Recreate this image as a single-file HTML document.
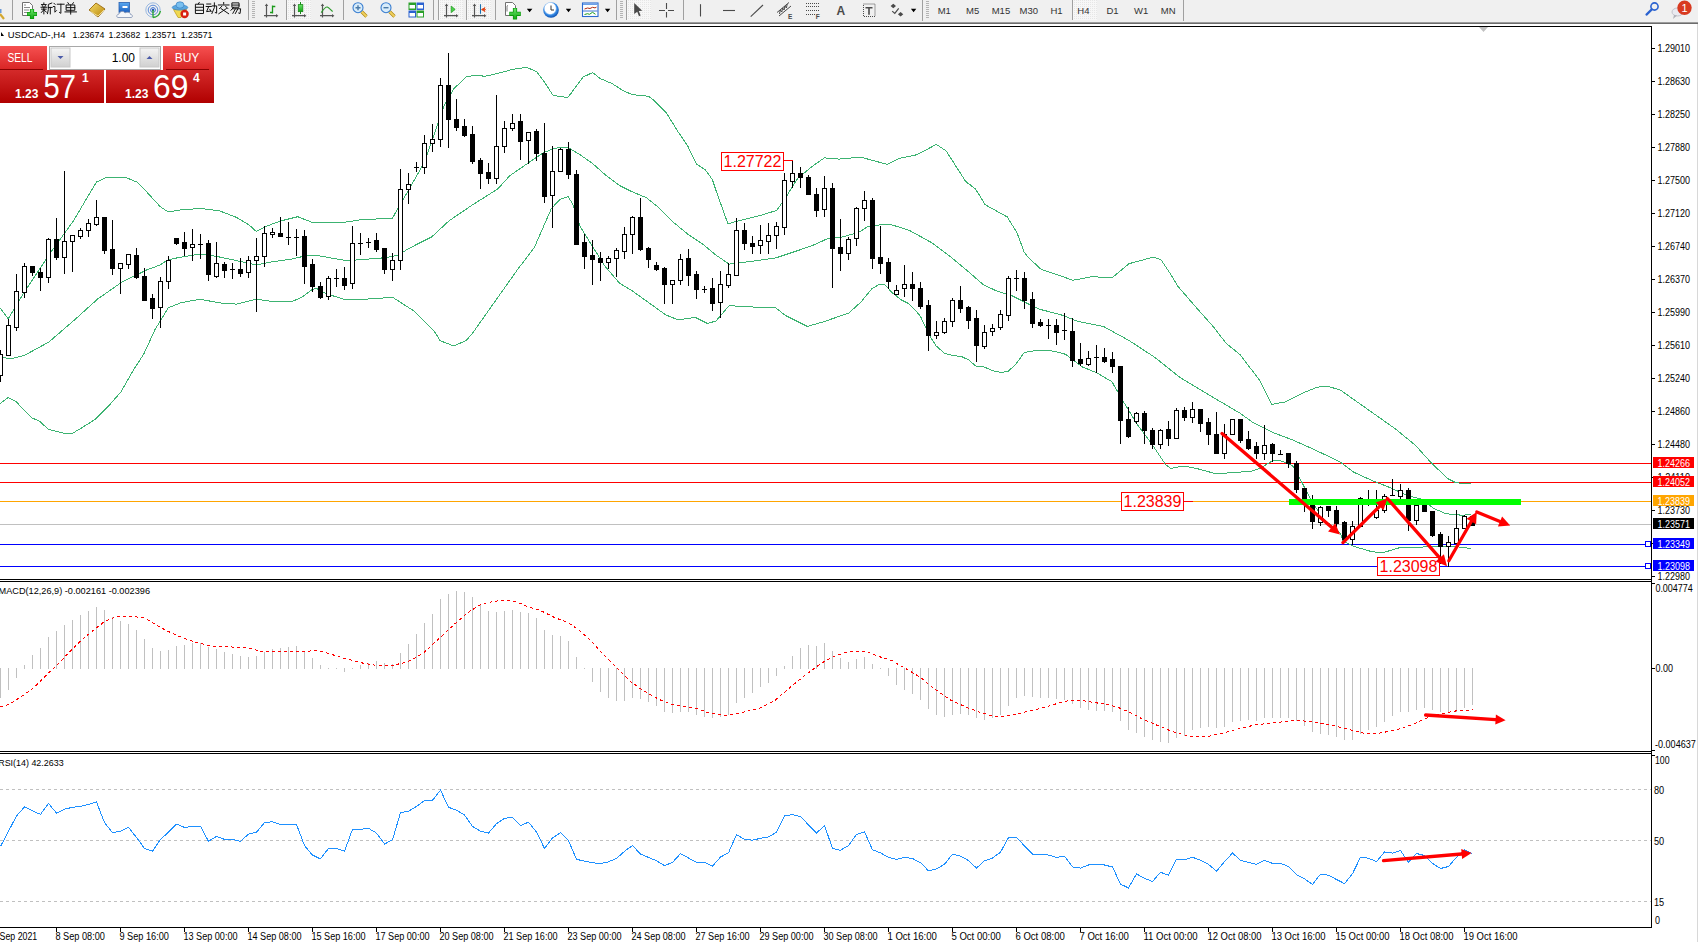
<!DOCTYPE html><html><head><meta charset="utf-8"><title>MT4</title><style>html,body{margin:0;padding:0;width:1698px;height:942px;overflow:hidden;background:#fff;font-family:"Liberation Sans",sans-serif}svg{position:absolute;left:0;top:0}</style></head><body>
<svg width="1698" height="942" viewBox="0 0 1698 942">
<rect x="0" y="0" width="1698" height="22" fill="#f0f0f0"/>
<rect x="0" y="22" width="1698" height="1" fill="#9c9c9c"/><rect x="0" y="23" width="1698" height="1" fill="#6c6c6c"/>
<rect x="1697" y="24" width="1" height="918" fill="#d8d8d8"/>
<g id="toolbar">
<defs>
<linearGradient id="gGreen" x1="0" y1="0" x2="0" y2="1"><stop offset="0" stop-color="#6be46b"/><stop offset="1" stop-color="#12a812"/></linearGradient>
<linearGradient id="gGold" x1="0" y1="0" x2="1" y2="1"><stop offset="0" stop-color="#f6dc6a"/><stop offset="1" stop-color="#b8860b"/></linearGradient>
<linearGradient id="gBlue" x1="0" y1="0" x2="0" y2="1"><stop offset="0" stop-color="#5aa8f0"/><stop offset="1" stop-color="#1a5fc0"/></linearGradient>
<radialGradient id="gClock" cx="0.45" cy="0.4" r="0.6"><stop offset="0.55" stop-color="#ffffff"/><stop offset="0.7" stop-color="#3a8ee8"/><stop offset="1" stop-color="#0b4fae"/></radialGradient>
<pattern id="pDots" width="2" height="2" patternUnits="userSpaceOnUse"><rect width="2" height="2" fill="#f7f7f7"/><rect width="1" height="1" fill="#e6e6e6"/></pattern>
</defs>
<!-- pressed backgrounds -->
<rect x="287" y="0" width="24" height="20" fill="url(#pDots)"/>
<rect x="439" y="0" width="24" height="20" fill="url(#pDots)"/>
<rect x="467" y="0" width="24" height="20" fill="url(#pDots)"/>
<rect x="627" y="0" width="24" height="20" fill="url(#pDots)"/>
<rect x="1073" y="0" width="24" height="20" fill="url(#pDots)"/>
<!-- separators -->
<g fill="#a0a0a0">
<rect x="12" y="0" width="1" height="20"/>
<rect x="248" y="0" width="1" height="20"/>
<rect x="286" y="0" width="1" height="20"/>
<rect x="343" y="0" width="1" height="20"/>
<rect x="433" y="0" width="1" height="20"/>
<rect x="438" y="0" width="1" height="20"/>
<rect x="466" y="0" width="1" height="20"/>
<rect x="495" y="0" width="1" height="20"/>
<rect x="616" y="0" width="1" height="20"/>
<rect x="626" y="0" width="1" height="20"/>
<rect x="683" y="0" width="1" height="20"/>
<rect x="922" y="0" width="1" height="21"/>
<rect x="1072" y="0" width="1" height="20"/>
<rect x="1183" y="0" width="1" height="21"/>
</g>
<!-- grips -->
<g fill="#b4b4b4">
<path d="M252,1h3v1h-3zM252,3h3v1h-3zM252,5h3v1h-3zM252,7h3v1h-3zM252,9h3v1h-3zM252,11h3v1h-3zM252,13h3v1h-3zM252,15h3v1h-3zM252,17h3v1h-3z"/>
<path d="M620,1h3v1h-3zM620,3h3v1h-3zM620,5h3v1h-3zM620,7h3v1h-3zM620,9h3v1h-3zM620,11h3v1h-3zM620,13h3v1h-3zM620,15h3v1h-3zM620,17h3v1h-3z"/>
<path d="M926,1h3v1h-3zM926,3h3v1h-3zM926,5h3v1h-3zM926,7h3v1h-3zM926,9h3v1h-3zM926,11h3v1h-3zM926,13h3v1h-3zM926,15h3v1h-3zM926,17h3v1h-3z"/>
</g>
<!-- partial magnifier at far left -->
<rect x="0" y="9" width="1.5" height="4" fill="#6a9ad8"/>
<path d="M0,14 L4,19" stroke="#d4a830" stroke-width="2.2"/>
<!-- new order -->
<path d="M22.5,2.5h7l3,3v10h-10z" fill="#fff" stroke="#707070"/>
<path d="M24,5h2M24,7.5h6M24,10h5M24,12.5h4" stroke="#8a8a8a" stroke-width="1"/>
<path d="M32,9v10M27,14h10" stroke="#0a9a0a" stroke-width="4.2"/>
<path d="M32,9.5v9M27.5,14h9" stroke="url(#gGreen)" stroke-width="2.6"/>
<!-- 新订单 -->
<g fill="none" stroke="#111" stroke-width="1.05" stroke-linecap="square">
<path transform="translate(41,2.5) scale(0.95)" d="M3,0.5v1.2M0.5,2.2h5M1.5,3.3l0.6,1.2M4.6,3.3l-0.5,1.2M0,5h6M3,5v7M0.6,7h4.8M3,7.5l-2.6,3M3,7.8l2.6,2.2M11.3,0.6l-3.6,1.4v5.5l-0.9,4.2M7.7,5.2h4M9.8,5.2v6.8"/>
<path transform="translate(53,2.5) scale(0.95)" d="M1,0.8l1.2,1.2M0.4,4.2h1.6v6l1.6-1.6M4.5,1.8h7.2M8.3,1.8v9.6l-1.4-0.9"/>
<path transform="translate(65,2.5) scale(0.95)" d="M3,0.2l1.1,1.6M8.8,0.2l-1.1,1.6M1.7,2.6h8.6v5.6h-8.6zM1.7,5.4h8.6M6,2.6v9.6M0,9.9h12"/>
</g>
<!-- gold book -->
<path d="M89,10 L96,3 L105,9 L98,17z" fill="url(#gGold)" stroke="#9a6a10" stroke-width="0.9"/>
<path d="M90.5,11.5 L98,16 L104,10" fill="none" stroke="#fff3b0" stroke-width="0.8"/>
<!-- blue cloud -->
<rect x="119" y="2.5" width="10.5" height="10" fill="url(#gBlue)" stroke="#2a60b0" stroke-width="0.8"/>
<rect x="122.5" y="6" width="5" height="2" fill="#fff"/>
<path d="M118,17.5 C116,17.5 116.5,14 119,14 C119.5,11 124,10.5 125,13 C127,11.5 131,12.5 130.5,14.5 C133,14.5 133,17.5 131,17.5z" fill="#f4f6fa" stroke="#8a9ab8" stroke-width="0.9"/>
<!-- signal -->
<circle cx="153" cy="10" r="7.2" fill="none" stroke="#9ab8e0" stroke-width="1"/>
<circle cx="153" cy="10" r="4.8" fill="none" stroke="#5a8ad8" stroke-width="1"/>
<circle cx="153" cy="10" r="2.4" fill="none" stroke="#3a70d0" stroke-width="1"/>
<circle cx="153" cy="10" r="1.2" fill="#1a50c0"/>
<path d="M153,10v7.5 M153,17.5 A7.5,7.5 0 0 0 160.4,11" fill="none" stroke="#2aa82a" stroke-width="1.3"/>
<!-- auto trading -->
<path d="M173.5,9.5 L186.5,9.5 L181,17.5 L178,17.5z" fill="#f0d850" stroke="#c0a020" stroke-width="0.8"/>
<ellipse cx="180" cy="7.5" rx="7.8" ry="2.6" fill="#5aa8e0" stroke="#3a80c0" stroke-width="0.7"/>
<ellipse cx="180" cy="5" rx="4" ry="3.2" fill="#7ac0f0" stroke="#3a80c0" stroke-width="0.7"/>
<circle cx="184.6" cy="14" r="4.2" fill="#d82010"/>
<rect x="183.1" y="12.5" width="3" height="3" fill="#fff"/>
<!-- 自动交易 -->
<g fill="none" stroke="#111" stroke-width="1.05" stroke-linecap="square">
<path transform="translate(194,2.5) scale(0.95)" d="M5.5,0l-1,1.5M2,1.8h8v9.8h-8zM2,5h8M2,8.2h8"/>
<path transform="translate(206,2.5) scale(0.95)" d="M0.8,1.6h4.2M0.2,4.2h5.4M2.8,4.4l-2.2,5.2l4.4-0.6M4,7.2l1.4,2.2M6.6,3.6h4.6v7.6l-1.4-0.6M8.8,0.4v5l-2.6,6.2"/>
<path transform="translate(218,2.5) scale(0.95)" d="M6,0v1.6M0.4,2.6h11.2M4,4l-2.4,2.4M8,4l2.4,2.4M3.2,6.4l8,5.4M8.8,6.4l-8,5.4"/>
<path transform="translate(230,2.5) scale(0.95)" d="M2.5,0.4h7v4.6h-7zM2.5,2.7h7M3.6,5.2l-2.6,3M2.6,6.6h8.6l-0.6,5l-1.4-0.5M5.6,6.8l-2.6,4.6M8.2,6.8l-2.6,4.8"/>
</g>
<!-- bar chart icon -->
<g stroke="#555" stroke-width="1.2" fill="#555">
<path d="M266.5,5v12.5M264,15.7h13" fill="none"/>
<path d="M264.8,6 L266.5,3.6 L268.2,6z M276,14 L278.4,15.7 L276,17.4z" stroke="none"/>
<path d="M294.5,5v12.5M292,15.7h13" fill="none"/>
<path d="M292.8,6 L294.5,3.6 L296.2,6z M304,14 L306.4,15.7 L304,17.4z" stroke="none"/>
<path d="M322.5,5v12.5M320,15.7h13" fill="none"/>
<path d="M320.8,6 L322.5,3.6 L324.2,6z M332,14 L334.4,15.7 L332,17.4z" stroke="none"/>
<path d="M446.5,5v12.5M444,15.7h13" fill="none"/>
<path d="M444.8,6 L446.5,3.6 L448.2,6z M456,14 L458.4,15.7 L456,17.4z" stroke="none"/>
<path d="M474.5,5v12.5M472,15.7h13" fill="none"/>
<path d="M472.8,6 L474.5,3.6 L476.2,6z M484,14 L486.4,15.7 L484,17.4z" stroke="none"/>
</g>
<path d="M272.5,5.5v8M270,12.5h2.5M272.5,6.5h2.8" stroke="#1a9a1a" stroke-width="1.3" fill="none"/>
<path d="M300.5,2v12" stroke="#1a8a1a" stroke-width="1"/>
<rect x="298.3" y="4.6" width="4.5" height="7" fill="url(#gGreen)" stroke="#1a8a1a" stroke-width="0.8"/>
<path d="M321.2,12.6 C323,10 325.5,6.5 327.3,7 C329,7.5 331,10.5 332.7,11.5" fill="none" stroke="#2a9a2a" stroke-width="1.1"/>
<path d="M451.2,6.1 L455.2,9.4 L451.2,12.6z" fill="#4ad04a" stroke="#1a9a1a" stroke-width="0.7"/>
<path d="M480.5,4.2v9.6" stroke="#1a70b0" stroke-width="1.1"/>
<path d="M481.5,9.6 L485,7.6 L484,9.6 L485,11.6z M483,9.6h3" fill="#e04010" stroke="#e04010" stroke-width="0.8"/>
<!-- zoom in/out -->
<path d="M361.5,11.5 L366.5,16.5" stroke="#b08a10" stroke-width="3.2"/>
<path d="M361.5,11.5 L366.5,16.5" stroke="#f0d060" stroke-width="1.8"/>
<circle cx="358" cy="7.7" r="5" fill="#d8ecfa" stroke="#3a7ed0" stroke-width="1.1"/>
<path d="M355.5,7.7h5M358,5.2v5" stroke="#4a7aa8" stroke-width="1.4"/>
<path d="M389.5,11.5 L394.5,16.5" stroke="#b08a10" stroke-width="3.2"/>
<path d="M389.5,11.5 L394.5,16.5" stroke="#f0d060" stroke-width="1.8"/>
<circle cx="386" cy="7.7" r="5" fill="#d8ecfa" stroke="#3a7ed0" stroke-width="1.1"/>
<path d="M383.5,7.7h5" stroke="#4a7aa8" stroke-width="1.4"/>
<!-- tile windows -->
<rect x="408.5" y="2.5" width="7.5" height="7.5" fill="#2aa02a"/>
<rect x="416.5" y="2.5" width="7.5" height="7.5" fill="#2a62d0"/>
<rect x="408.5" y="10.5" width="7.5" height="7" fill="#2a62d0"/>
<rect x="416.5" y="10.5" width="7.5" height="7" fill="#2aa02a"/>
<g fill="#fff"><rect x="409.5" y="5" width="5.5" height="3.5"/><rect x="417.5" y="5" width="5.5" height="3.5"/><rect x="409.5" y="13" width="5.5" height="3.5"/><rect x="417.5" y="13" width="5.5" height="3.5"/></g>
<!-- templates -->
<path d="M505.5,2.5h7l3,3v10h-10z" fill="#fff" stroke="#707070"/>
<path d="M508,5.5c-1,0 -1,1 -1,2v4" fill="none" stroke="#555" stroke-width="0.8"/>
<path d="M515,8v11.5M509.3,13.8h11.5" stroke="#0a9a0a" stroke-width="4.2"/>
<path d="M515,8.5v10.5M509.8,13.8h10.5" stroke="url(#gGreen)" stroke-width="2.6"/>
<path d="M526.8,8.8h5.6l-2.8,3.5z M565.8,8.8h5.4l-2.7,3.5z M604.9,8.8h5.4l-2.7,3.5z M910.9,8.8h5.4l-2.7,3.5z" fill="#000"/>
<!-- clock -->
<circle cx="551" cy="10" r="7.8" fill="url(#gClock)"/>
<path d="M551,5.5v4.5h3" fill="none" stroke="#333" stroke-width="1"/>
<!-- indicators -->
<rect x="582.5" y="3" width="15.5" height="13.5" fill="#fff" stroke="#2a6ad0" stroke-width="1.1"/>
<rect x="583" y="3.5" width="14.5" height="1.5" fill="#6aa0e8"/>
<path d="M583,11h14.5" stroke="#2a6ad0" stroke-width="0.9"/>
<path d="M584.5,9 l3,-1 l2.5,0.5 l2.5,-1.2 l2.5,0.6 l1.5,-0.8" fill="none" stroke="#b02a10" stroke-width="1"/>
<path d="M584.5,14.5 l3,-0.8 l2,0.6 l3,-2 l3,2" fill="none" stroke="#1a9a1a" stroke-width="1"/>
<!-- cursor -->
<path d="M634.2,3 L642.2,10.7 L638.8,10.9 L640.6,15.5 L639,16.3 L637.2,11.8 L634.2,14z" fill="#4a4a4a"/>
<!-- crosshair -->
<path d="M659,10.5h6M668,10.5h6M666.5,3v6M666.5,12v5.6" stroke="#4a4a4a" stroke-width="1.1"/>
<!-- lines -->
<path d="M700.5,4.2v12.3" stroke="#4a4a4a" stroke-width="1.1"/>
<path d="M723,10.5h12" stroke="#4a4a4a" stroke-width="1.1"/>
<path d="M750.7,16.7 L763,5" stroke="#4a4a4a" stroke-width="1.1"/>
<!-- channel E -->
<path d="M777,12.5 L789,2.5 M779,16 L791,6 M779.5,14 l0.8,-4 l1.5,2 l0.8,-4 l1.5,2 l0.8,-4 l1.5,2 l0.8,-4" fill="none" stroke="#4a4a4a" stroke-width="1"/>
<text x="788" y="18.8" font-family="Liberation Sans, sans-serif" font-size="6.5" font-weight="bold" fill="#4a4a4a">E</text>
<!-- fibo F -->
<g stroke="#4a4a4a" stroke-width="1" stroke-dasharray="1,1"><path d="M806,3.5h13M806,6.5h13M806,10.5h13M806,14.5h9"/></g>
<text x="815.8" y="18.8" font-family="Liberation Sans, sans-serif" font-size="6.5" font-weight="bold" fill="#4a4a4a">F</text>
<!-- A text -->
<text x="836.6" y="14.9" font-family="Liberation Sans, sans-serif" font-size="12" font-weight="bold" fill="#4a4a4a">A</text>
<!-- T label -->
<rect x="863.5" y="4" width="11.5" height="12.5" fill="none" stroke="#4a4a4a" stroke-width="1" stroke-dasharray="1,1"/>
<path d="M865.5,7.7h7M869,7.7v7" stroke="#4a4a4a" stroke-width="1.6"/>
<!-- arrows -->
<path d="M893.3,3.8 L896,6.1 L893.3,8.2 L890.6,6.1z M900.6,12 L903.3,14.2 L900.6,16.5 L897.9,14.2z" fill="#4a4a4a"/>
<path d="M892.2,11.1 L894.8,13.4 L898.7,8.4" fill="none" stroke="#4a4a4a" stroke-width="1.2"/>
<!-- timeframes -->
<g font-family="Liberation Sans, sans-serif" font-size="9.5" fill="#333">
<text x="937.7" y="13.9">M1</text>
<text x="966" y="13.9">M5</text>
<text x="991.7" y="13.9">M15</text>
<text x="1019.6" y="13.9">M30</text>
<text x="1050.5" y="13.9">H1</text>
<text x="1077.3" y="13.9">H4</text>
<text x="1106.4" y="13.9">D1</text>
<text x="1134" y="13.9">W1</text>
<text x="1160.8" y="13.9">MN</text>
</g>
<!-- search -->
<circle cx="1654.5" cy="6.5" r="3.6" fill="none" stroke="#2a62d0" stroke-width="1.6"/>
<path d="M1651.8,9.4 L1646.5,14.6" stroke="#2a62d0" stroke-width="2.2" stroke-linecap="round"/>
<!-- chat bubble + badge -->
<ellipse cx="1677.5" cy="12" rx="5.5" ry="4" fill="#eaeaf0" stroke="#b8b8c0" stroke-width="0.8"/>
<path d="M1674,15 L1673,19 L1677,15.5z" fill="#b0b0b8"/>
<circle cx="1684.5" cy="7.8" r="7.2" fill="#d83a20"/>
<text x="1684.5" y="12" font-family="Liberation Sans, sans-serif" font-size="11" fill="#fff" text-anchor="middle">1</text>

</g>
<g shape-rendering="crispEdges" fill="none" stroke="#000" stroke-width="1">
<path d="M0,26.5H1651.5V927.5H0"/>
<path d="M0,579.5H1651.5M0,581.5H1651.5M0,751.5H1651.5M0,753.5H1651.5"/>
</g>
<rect x="0" y="463" width="1651" height="1" fill="#ff0000"/>
<rect x="0" y="482" width="1651" height="1" fill="#ff0000"/>
<rect x="0" y="501" width="1651" height="1" fill="#ffa500"/>
<rect x="0" y="524" width="1651" height="1" fill="#c0c0c0"/>
<rect x="0" y="544" width="1651" height="1" fill="#0000ff"/>
<rect x="0" y="566" width="1651" height="1" fill="#0000ff"/>
<rect x="1645.5" y="541.5" width="5" height="5" fill="#fff" stroke="#0000ff" stroke-width="1"/>
<rect x="1645.5" y="563.5" width="5" height="5" fill="#fff" stroke="#0000ff" stroke-width="1"/>
<g fill="none" stroke="#3cb371" stroke-width="1" shape-rendering="crispEdges">
<polyline points="0.0,307.8 8.3,318.8 24.4,292.0 48.9,255.0 73.3,221.0 96.5,182.0 107.5,177.0 124.6,177.0 136.8,182.0 146.6,191.8 160.0,206.4 168.2,212.0 180.4,210.0 200.0,208.4 219.5,210.8 236.6,217.4 248.8,224.7 256.1,231.3 265.9,226.4 280.6,221.0 297.7,216.7 312.0,222.3 343.8,222.3 360.9,219.8 392.6,218.1 397.5,208.9 404.8,196.6 414.6,179.5 424.4,162.4 444.0,106.0 453.7,88.9 466.0,77.1 473.3,75.4 485.5,76.2 502.6,72.2 512.4,69.3 527.0,67.4 536.8,71.8 546.6,85.2 552.7,95.0 560.0,96.7 567.9,97.3 571.9,92.2 583.0,77.1 592.6,72.6 600.5,78.7 611.7,83.4 624.4,91.4 632.4,94.6 648.3,96.2 653.7,100.0 665.9,112.2 678.1,131.8 687.9,146.4 696.4,164.0 705.0,169.6 712.3,179.4 716.0,190.4 727.9,223.8 741.3,220.1 760.9,215.3 776.7,210.4 785.3,198.2 797.5,178.6 812.1,166.4 824.4,157.9 839.0,159.1 861.0,157.1 872.0,160.3 887.5,164.4 899.8,158.3 916.9,154.7 936.4,144.4 946.2,151.0 965.7,181.5 975.5,188.9 985.2,204.7 1007.2,216.9 1017.0,232.8 1024.3,252.4 1028.0,257.2 1041.1,269.3 1055.8,274.2 1072.9,280.3 1092.4,276.6 1111.9,277.9 1129.0,263.7 1153.5,257.1 1160.8,259.5 1170.6,274.2 1177.6,285.9 1192.9,303.7 1213.2,326.6 1226.0,343.2 1240.0,354.6 1259.4,380.0 1271.6,404.4 1285.0,402.0 1302.0,393.4 1316.8,387.3 1326.6,386.1 1340.0,389.8 1395.6,429.0 1415.4,445.3 1431.7,463.3 1447.9,478.7 1455.1,482.3 1462.4,483.5 1471.4,484.0"/>
<polyline points="0.0,356.6 9.8,359.0 24.4,355.4 48.9,342.0 73.3,321.0 97.7,299.0 122.1,282.0 146.6,270.0 160.0,265.0 168.2,259.7 180.4,257.2 200.0,254.0 217.1,256.5 236.6,260.6 256.1,265.0 270.8,262.1 292.8,258.9 307.4,255.3 316.0,255.3 326.7,257.2 346.2,260.6 360.9,259.7 385.3,257.7 397.5,255.3 409.7,248.0 431.7,236.9 448.8,221.0 472.0,205.2 497.7,189.0 509.9,175.6 529.5,162.1 544.1,152.4 553.9,148.7 560.0,147.5 568.2,147.6 580.4,155.0 592.6,163.5 604.9,174.5 619.5,185.5 631.7,191.6 646.4,197.7 658.6,207.5 673.2,222.1 687.9,234.3 702.6,244.1 716.0,255.1 729.1,264.1 748.6,261.7 775.5,258.0 797.5,250.7 814.6,244.6 826.8,239.0 841.5,237.2 858.6,232.4 868.3,226.3 872.0,225.5 890.0,224.3 909.5,230.4 931.5,242.6 951.0,257.2 966.4,270.0 984.0,285.2 996.8,291.0 1006.2,294.0 1012.0,295.7 1029.5,304.5 1038.9,309.1 1060.0,314.4 1078.2,321.5 1103.7,326.6 1129.2,340.6 1154.6,357.2 1180.1,377.6 1205.6,392.9 1240.0,413.2 1253.3,422.7 1272.8,432.5 1292.4,439.8 1314.3,449.6 1340.0,461.8 1354.0,472.3 1372.1,480.5 1390.2,487.7 1408.2,495.8 1422.6,499.4 1433.5,508.4 1444.3,513.0 1453.3,514.8 1462.4,515.1 1471.4,514.8"/>
<polyline points="0.0,403.6 8.3,397.5 16.6,402.0 21.7,407.7 31.8,417.9 39.5,421.1 48.4,429.4 63.7,433.2 72.6,433.2 80.3,428.7 95.5,419.2 108.3,406.4 121.0,391.8 133.8,369.5 144.0,353.6 154.8,330.0 168.2,307.8 180.4,302.9 200.0,299.2 219.5,302.9 236.6,304.1 256.1,299.2 270.8,301.2 292.8,301.2 302.6,296.8 312.3,289.5 316.0,288.2 326.7,293.9 343.8,299.2 365.7,299.2 392.6,297.3 414.6,311.4 434.1,331.0 440.2,340.7 453.7,346.0 465.9,340.7 472.0,334.0 517.2,270.0 534.3,247.6 551.4,208.5 560.0,199.3 568.2,196.5 573.1,205.0 580.4,227.0 592.6,246.6 604.9,266.1 619.5,283.2 631.7,290.5 648.8,302.7 665.9,315.0 678.1,319.8 695.2,317.4 707.4,323.5 716.0,321.0 729.1,305.6 748.6,306.9 775.5,307.6 785.3,315.4 807.3,326.4 824.4,321.5 848.8,313.0 861.0,302.0 872.0,288.5 880.0,284.0 884.7,284.6 891.7,292.2 901.0,299.8 908.0,303.3 913.9,308.6 920.3,316.1 925.6,327.2 930.2,336.6 936.1,345.9 944.3,353.2 952.4,355.3 961.8,356.7 968.8,360.0 977.0,367.0 982.8,366.4 992.1,370.5 1001.5,372.6 1008.5,371.0 1015.5,364.6 1024.3,352.4 1031.9,351.2 1036.5,350.4 1049.4,350.4 1060.0,352.7 1065.5,354.3 1082.6,367.0 1097.3,373.1 1111.9,381.7 1121.7,398.8 1136.4,423.2 1151.0,442.7 1165.7,464.7 1170.6,468.4 1184.0,466.0 1199.5,469.2 1216.6,474.0 1233.7,472.3 1250.8,471.6 1260.6,468.0 1272.8,460.6 1280.1,460.6 1292.4,465.5 1302.1,482.6 1311.9,502.1 1324.1,519.2 1336.3,530.2 1340.0,532.7 1343.2,540.9 1354.0,546.4 1372.1,551.8 1382.9,552.7 1399.2,547.8 1417.2,547.3 1435.3,546.4 1453.3,546.4 1471.4,548.5"/>
</g>
<g shape-rendering="crispEdges">
<path d="M0.5,350V382M8.5,319V356M16.5,274V331M24.5,263V298M32.5,266V276M40.5,268V291M48.5,238V283M56.5,218V260M64.5,171V274M72.5,235V272M80.5,228V239M88.5,219V237M96.5,200V226M104.5,217V254M112.5,220V275M120.5,263V294M128.5,254V269M136.5,248V279M144.5,268V301M152.5,294V319M160.5,277V328M168.5,256V289M176.5,238V245M184.5,232V256M192.5,229V261M200.5,234V259M208.5,240V281M216.5,242V278M224.5,262V278M232.5,263V279M240.5,258V277M248.5,256V278M256.5,238V312M264.5,226V267M272.5,228V238M280.5,217V237M288.5,222V245M296.5,229V256M304.5,230V284M312.5,259V292M320.5,282V299M328.5,276V300M336.5,269V287M344.5,267V290M352.5,226V289M360.5,233V255M368.5,238V248M376.5,233V252M384.5,248V274M392.5,253V281M400.5,169V270M408.5,173V204M416.5,162V172M424.5,135V174M432.5,124V152M440.5,78V147M448.5,53V148M456.5,99V131M464.5,119V137M472.5,126V164M480.5,158V189M488.5,163V184M496.5,95V184M504.5,121V153M512.5,114V131M520.5,114V160M528.5,132V164M536.5,129V161M544.5,123V203M552.5,146V228M560.5,148V172M568.5,142V179M576.5,170V245M584.5,234V269M592.5,240V285M600.5,252V281M608.5,256V269M616.5,248V277M624.5,227V259M632.5,216V254M640.5,198V251M648.5,247V268M656.5,262V271M664.5,267V304M672.5,280V304M680.5,254V285M688.5,249V286M696.5,271V299M704.5,286V293M712.5,278V311M720.5,271V318M728.5,263V288M736.5,218V276M744.5,223V250M752.5,236V254M760.5,225V254M768.5,223V254M776.5,222V249M784.5,173V235M792.5,160V188M800.5,167V188M808.5,175V195M816.5,188V217M824.5,176V217M832.5,183V288M840.5,219V271M848.5,237V260M856.5,207V246M864.5,191V221M872.5,198V269M880.5,226V274M888.5,258V289M896.5,285V295M904.5,265V297M912.5,272V301M920.5,282V309M928.5,300V351M936.5,321V339M944.5,318V334M952.5,298V327M960.5,286V313M968.5,306V329M976.5,310V362M984.5,325V349M992.5,324V336M1000.5,310V330M1008.5,276V321M1016.5,270V291M1024.5,272V309M1032.5,292V328M1040.5,319V327M1048.5,319V339M1056.5,319V345M1064.5,313V340M1072.5,318V367M1080.5,343V366M1088.5,351V366M1096.5,345V373M1104.5,348V363M1112.5,352V373M1120.5,366V444M1128.5,407V438M1136.5,412V424M1144.5,411V444M1152.5,428V449M1160.5,429V449M1168.5,421V446M1176.5,408V439M1184.5,407V421M1192.5,402V423M1200.5,409V432M1208.5,418V445M1216.5,412V454M1224.5,424V459M1232.5,419V435M1240.5,419V443M1248.5,431V450M1256.5,442V459M1264.5,425V460M1272.5,443V462M1280.5,450V455M1288.5,453V468M1296.5,461V493M1304.5,488V512M1312.5,495V529M1320.5,506V526M1328.5,506V517M1336.5,506V527M1344.5,521V541M1352.5,521V545M1360.5,497V527M1368.5,490V506M1376.5,490V519M1384.5,494V513M1392.5,479V496M1400.5,484V499M1408.5,488V531M1416.5,505V525M1424.5,505V512M1432.5,511V537M1440.5,532V564M1448.5,536V567M1456.5,510V544M1464.5,515V529M1472.5,515V526" stroke="#000" stroke-width="1" fill="none"/>
<rect x="-1.5" y="354.5" width="4" height="21" fill="#fff" stroke="#000" stroke-width="1"/>
<rect x="6.5" y="325.5" width="4" height="30" fill="#fff" stroke="#000" stroke-width="1"/>
<rect x="14.5" y="291.5" width="4" height="36" fill="#fff" stroke="#000" stroke-width="1"/>
<rect x="22.5" y="266.5" width="4" height="26" fill="#fff" stroke="#000" stroke-width="1"/>
<rect x="46.5" y="239.5" width="4" height="38" fill="#fff" stroke="#000" stroke-width="1"/>
<rect x="62.5" y="241.5" width="4" height="16" fill="#fff" stroke="#000" stroke-width="1"/>
<rect x="70.5" y="235.5" width="4" height="6" fill="#fff" stroke="#000" stroke-width="1"/>
<rect x="78.5" y="230.5" width="4" height="6" fill="#fff" stroke="#000" stroke-width="1"/>
<rect x="86.5" y="223.5" width="4" height="7" fill="#fff" stroke="#000" stroke-width="1"/>
<rect x="94.5" y="217.5" width="4" height="7" fill="#fff" stroke="#000" stroke-width="1"/>
<rect x="118.5" y="263.5" width="4" height="5" fill="#fff" stroke="#000" stroke-width="1"/>
<rect x="126.5" y="254.5" width="4" height="10" fill="#fff" stroke="#000" stroke-width="1"/>
<rect x="158.5" y="281.5" width="4" height="26" fill="#fff" stroke="#000" stroke-width="1"/>
<rect x="166.5" y="260.5" width="4" height="21" fill="#fff" stroke="#000" stroke-width="1"/>
<rect x="190.5" y="244.5" width="4" height="3" fill="#fff" stroke="#000" stroke-width="1"/>
<rect x="214.5" y="263.5" width="4" height="13" fill="#fff" stroke="#000" stroke-width="1"/>
<rect x="246.5" y="260.5" width="4" height="12" fill="#fff" stroke="#000" stroke-width="1"/>
<rect x="254.5" y="256.5" width="4" height="4" fill="#fff" stroke="#000" stroke-width="1"/>
<rect x="262.5" y="233.5" width="4" height="23" fill="#fff" stroke="#000" stroke-width="1"/>
<rect x="270.5" y="232.5" width="4" height="2" fill="#fff" stroke="#000" stroke-width="1"/>
<rect x="326.5" y="278.5" width="4" height="18" fill="#fff" stroke="#000" stroke-width="1"/>
<rect x="350.5" y="243.5" width="4" height="40" fill="#fff" stroke="#000" stroke-width="1"/>
<rect x="390.5" y="260.5" width="4" height="9" fill="#fff" stroke="#000" stroke-width="1"/>
<rect x="398.5" y="189.5" width="4" height="71" fill="#fff" stroke="#000" stroke-width="1"/>
<rect x="406.5" y="184.5" width="4" height="5" fill="#fff" stroke="#000" stroke-width="1"/>
<rect x="422.5" y="143.5" width="4" height="24" fill="#fff" stroke="#000" stroke-width="1"/>
<rect x="430.5" y="139.5" width="4" height="4" fill="#fff" stroke="#000" stroke-width="1"/>
<rect x="438.5" y="85.5" width="4" height="54" fill="#fff" stroke="#000" stroke-width="1"/>
<rect x="494.5" y="146.5" width="4" height="32" fill="#fff" stroke="#000" stroke-width="1"/>
<rect x="502.5" y="128.5" width="4" height="18" fill="#fff" stroke="#000" stroke-width="1"/>
<rect x="510.5" y="123.5" width="4" height="5" fill="#fff" stroke="#000" stroke-width="1"/>
<rect x="526.5" y="132.5" width="4" height="8" fill="#fff" stroke="#000" stroke-width="1"/>
<rect x="550.5" y="171.5" width="4" height="24" fill="#fff" stroke="#000" stroke-width="1"/>
<rect x="558.5" y="149.5" width="4" height="22" fill="#fff" stroke="#000" stroke-width="1"/>
<rect x="606.5" y="258.5" width="4" height="4" fill="#fff" stroke="#000" stroke-width="1"/>
<rect x="614.5" y="250.5" width="4" height="8" fill="#fff" stroke="#000" stroke-width="1"/>
<rect x="622.5" y="234.5" width="4" height="17" fill="#fff" stroke="#000" stroke-width="1"/>
<rect x="630.5" y="217.5" width="4" height="17" fill="#fff" stroke="#000" stroke-width="1"/>
<rect x="670.5" y="280.5" width="4" height="4" fill="#fff" stroke="#000" stroke-width="1"/>
<rect x="678.5" y="259.5" width="4" height="21" fill="#fff" stroke="#000" stroke-width="1"/>
<rect x="718.5" y="284.5" width="4" height="18" fill="#fff" stroke="#000" stroke-width="1"/>
<rect x="726.5" y="274.5" width="4" height="11" fill="#fff" stroke="#000" stroke-width="1"/>
<rect x="734.5" y="230.5" width="4" height="45" fill="#fff" stroke="#000" stroke-width="1"/>
<rect x="758.5" y="240.5" width="4" height="5" fill="#fff" stroke="#000" stroke-width="1"/>
<rect x="766.5" y="235.5" width="4" height="6" fill="#fff" stroke="#000" stroke-width="1"/>
<rect x="774.5" y="226.5" width="4" height="9" fill="#fff" stroke="#000" stroke-width="1"/>
<rect x="782.5" y="180.5" width="4" height="47" fill="#fff" stroke="#000" stroke-width="1"/>
<rect x="790.5" y="173.5" width="4" height="8" fill="#fff" stroke="#000" stroke-width="1"/>
<rect x="822.5" y="188.5" width="4" height="21" fill="#fff" stroke="#000" stroke-width="1"/>
<rect x="846.5" y="239.5" width="4" height="14" fill="#fff" stroke="#000" stroke-width="1"/>
<rect x="854.5" y="208.5" width="4" height="30" fill="#fff" stroke="#000" stroke-width="1"/>
<rect x="862.5" y="200.5" width="4" height="8" fill="#fff" stroke="#000" stroke-width="1"/>
<rect x="894.5" y="290.5" width="4" height="4" fill="#fff" stroke="#000" stroke-width="1"/>
<rect x="902.5" y="284.5" width="4" height="4" fill="#fff" stroke="#000" stroke-width="1"/>
<rect x="934.5" y="332.5" width="4" height="3" fill="#fff" stroke="#000" stroke-width="1"/>
<rect x="942.5" y="321.5" width="4" height="11" fill="#fff" stroke="#000" stroke-width="1"/>
<rect x="950.5" y="300.5" width="4" height="21" fill="#fff" stroke="#000" stroke-width="1"/>
<rect x="982.5" y="332.5" width="4" height="14" fill="#fff" stroke="#000" stroke-width="1"/>
<rect x="990.5" y="328.5" width="4" height="3" fill="#fff" stroke="#000" stroke-width="1"/>
<rect x="998.5" y="314.5" width="4" height="13" fill="#fff" stroke="#000" stroke-width="1"/>
<rect x="1006.5" y="278.5" width="4" height="37" fill="#fff" stroke="#000" stroke-width="1"/>
<rect x="1086.5" y="358.5" width="4" height="6" fill="#fff" stroke="#000" stroke-width="1"/>
<rect x="1134.5" y="413.5" width="4" height="8" fill="#fff" stroke="#000" stroke-width="1"/>
<rect x="1158.5" y="430.5" width="4" height="14" fill="#fff" stroke="#000" stroke-width="1"/>
<rect x="1174.5" y="410.5" width="4" height="28" fill="#fff" stroke="#000" stroke-width="1"/>
<rect x="1190.5" y="409.5" width="4" height="8" fill="#fff" stroke="#000" stroke-width="1"/>
<rect x="1222.5" y="434.5" width="4" height="19" fill="#fff" stroke="#000" stroke-width="1"/>
<rect x="1230.5" y="419.5" width="4" height="15" fill="#fff" stroke="#000" stroke-width="1"/>
<rect x="1262.5" y="445.5" width="4" height="8" fill="#fff" stroke="#000" stroke-width="1"/>
<rect x="1318.5" y="507.5" width="4" height="15" fill="#fff" stroke="#000" stroke-width="1"/>
<rect x="1350.5" y="526.5" width="4" height="13" fill="#fff" stroke="#000" stroke-width="1"/>
<rect x="1358.5" y="498.5" width="4" height="28" fill="#fff" stroke="#000" stroke-width="1"/>
<rect x="1366.5" y="499.5" width="4" height="5" fill="#fff" stroke="#000" stroke-width="1"/>
<rect x="1374.5" y="510.5" width="4" height="7" fill="#fff" stroke="#000" stroke-width="1"/>
<rect x="1382.5" y="496.5" width="4" height="14" fill="#fff" stroke="#000" stroke-width="1"/>
<rect x="1398.5" y="490.5" width="4" height="6" fill="#fff" stroke="#000" stroke-width="1"/>
<rect x="1414.5" y="505.5" width="4" height="15" fill="#fff" stroke="#000" stroke-width="1"/>
<rect x="1446.5" y="542.5" width="4" height="4" fill="#fff" stroke="#000" stroke-width="1"/>
<rect x="1454.5" y="528.5" width="4" height="15" fill="#fff" stroke="#000" stroke-width="1"/>
<rect x="1462.5" y="516.5" width="4" height="12" fill="#fff" stroke="#000" stroke-width="1"/>
<path d="M30,266h5v7h-5zM38,272h5v6h-5zM54,239h5v19h-5zM102,217h5v34h-5zM110,249h5v20h-5zM134,255h5v23h-5zM142,276h5v25h-5zM150,298h5v11h-5zM174,238h5v6h-5zM182,242h5v7h-5zM198,244h5v1h-5zM206,243h5v32h-5zM222,264h5v7h-5zM230,269h5v1h-5zM238,269h5v5h-5zM278,233h5v4h-5zM286,237h5v1h-5zM294,237h5v1h-5zM302,236h5v31h-5zM310,264h5v23h-5zM318,286h5v12h-5zM334,278h5v1h-5zM342,278h5v8h-5zM358,243h5v1h-5zM366,242h5v1h-5zM374,240h5v10h-5zM382,248h5v22h-5zM414,167h5v1h-5zM446,85h5v35h-5zM454,119h5v9h-5zM462,126h5v10h-5zM470,134h5v28h-5zM478,160h5v14h-5zM486,172h5v7h-5zM518,121h5v21h-5zM534,131h5v23h-5zM542,153h5v44h-5zM566,149h5v26h-5zM574,174h5v71h-5zM582,242h5v15h-5zM590,255h5v5h-5zM598,258h5v5h-5zM638,217h5v33h-5zM646,248h5v12h-5zM654,265h5v5h-5zM662,268h5v17h-5zM686,258h5v18h-5zM694,274h5v16h-5zM702,289h5v1h-5zM710,288h5v16h-5zM742,230h5v14h-5zM750,243h5v4h-5zM798,173h5v5h-5zM806,177h5v18h-5zM814,194h5v17h-5zM830,188h5v61h-5zM838,247h5v7h-5zM870,200h5v59h-5zM878,257h5v7h-5zM886,262h5v20h-5zM910,284h5v5h-5zM918,288h5v19h-5zM926,305h5v31h-5zM958,300h5v9h-5zM966,307h5v14h-5zM974,318h5v28h-5zM1014,278h5v1h-5zM1022,278h5v23h-5zM1030,299h5v25h-5zM1038,322h5v4h-5zM1046,325h5v1h-5zM1054,325h5v8h-5zM1062,330h5v1h-5zM1070,331h5v30h-5zM1078,359h5v5h-5zM1094,357h5v1h-5zM1102,357h5v5h-5zM1110,359h5v8h-5zM1118,366h5v55h-5zM1126,419h5v18h-5zM1142,413h5v18h-5zM1150,430h5v15h-5zM1166,429h5v10h-5zM1182,410h5v8h-5zM1198,409h5v15h-5zM1206,422h5v13h-5zM1214,434h5v20h-5zM1238,419h5v22h-5zM1246,439h5v10h-5zM1254,446h5v8h-5zM1270,444h5v10h-5zM1278,454h5v1h-5zM1286,453h5v11h-5zM1294,463h5v27h-5zM1302,488h5v12h-5zM1310,505h5v17h-5zM1326,506h5v5h-5zM1334,510h5v14h-5zM1342,522h5v18h-5zM1390,495h5v1h-5zM1406,490h5v31h-5zM1422,505h5v7h-5zM1430,511h5v25h-5zM1438,534h5v13h-5zM1470,516h5v10h-5z" fill="#000"/>
</g>
<rect x="1289" y="499" width="232" height="6" fill="#00ff00"/>
<rect x="721.5" y="152.5" width="62" height="18" fill="#fff" stroke="#ff0000" stroke-width="1"/>
<text x="752.5" y="167" font-family="Liberation Sans, sans-serif" font-size="16" fill="#ff0000" text-anchor="middle">1.27722</text>
<rect x="783" y="160" width="10" height="1" fill="#ff0000"/>
<rect x="1121.5" y="492.5" width="62" height="18" fill="#fff" stroke="#ff0000" stroke-width="1"/>
<text x="1152.5" y="507" font-family="Liberation Sans, sans-serif" font-size="16" fill="#ff0000" text-anchor="middle">1.23839</text>
<rect x="1183" y="501" width="10" height="1" fill="#ff0000"/>
<rect x="1377.5" y="557.5" width="62" height="18" fill="#fff" stroke="#ff0000" stroke-width="1"/>
<text x="1408.5" y="572" font-family="Liberation Sans, sans-serif" font-size="16" fill="#ff0000" text-anchor="middle">1.23098</text>
<line x1="1222.0" y1="433.5" x2="1331.6" y2="527.3" stroke="#ff0000" stroke-width="3.3" stroke-linecap="round"/>
<polygon points="1340.0,534.5 1328.1,531.5 1335.2,523.2" fill="#ff0000"/>
<line x1="1343.0" y1="542.7" x2="1379.6" y2="506.3" stroke="#ff0000" stroke-width="3.3" stroke-linecap="round"/>
<polygon points="1387.4,498.5 1383.5,510.2 1375.7,502.4" fill="#ff0000"/>
<line x1="1387.4" y1="498.5" x2="1439.7" y2="557.9" stroke="#ff0000" stroke-width="3.3" stroke-linecap="round"/>
<polygon points="1447.0,566.2 1435.6,561.6 1443.9,554.3" fill="#ff0000"/>
<line x1="1448.8" y1="560.8" x2="1471.3" y2="521.5" stroke="#ff0000" stroke-width="3.3" stroke-linecap="round"/>
<polygon points="1476.8,512.0 1476.1,524.3 1466.6,518.8" fill="#ff0000"/>
<line x1="1476.8" y1="512.0" x2="1500.0" y2="521.5" stroke="#ff0000" stroke-width="3.3" stroke-linecap="round"/>
<polygon points="1510.2,525.6 1497.9,526.5 1502.1,516.4" fill="#ff0000"/>
<path d="M0.5,668V698M8.5,668V690M16.5,668V678M24.5,669V665M32.5,669V655M40.5,669V648M48.5,669V637M56.5,669V631M64.5,669V625M72.5,669V620M80.5,669V615M88.5,669V611M96.5,669V607M104.5,669V610M112.5,669V617M120.5,669V621M128.5,669V624M136.5,669V630M144.5,669V639M152.5,669V648M160.5,669V651M168.5,669V650M176.5,669V646M184.5,669V645M192.5,669V643M200.5,669V643M208.5,669V647M216.5,669V649M224.5,669V652M232.5,669V654M240.5,669V656M248.5,669V657M256.5,669V656M264.5,669V652M272.5,669V649M280.5,669V648M288.5,669V647M296.5,669V646M304.5,669V651M312.5,669V658M320.5,669V665M328.5,669V668M336.5,669V668M344.5,668V672M352.5,669V668M360.5,669V665M368.5,669V663M376.5,669V661M384.5,669V663M392.5,669V664M400.5,669V653M408.5,669V644M416.5,669V634M424.5,669V623M432.5,669V614M440.5,669V599M448.5,669V594M456.5,669V591M464.5,669V592M472.5,669V597M480.5,669V604M488.5,669V611M496.5,669V612M504.5,669V611M512.5,669V610M520.5,669V612M528.5,669V613M536.5,669V618M544.5,669V630M552.5,669V635M560.5,669V636M568.5,669V641M576.5,669V657M584.5,669V668M592.5,668V682M600.5,668V692M608.5,668V698M616.5,668V701M624.5,668V701M632.5,668V698M640.5,668V699M648.5,668V702M656.5,668V706M664.5,668V712M672.5,668V713M680.5,668V712M688.5,668V712M696.5,668V715M704.5,668V717M712.5,668V718M720.5,668V717M728.5,668V715M736.5,668V703M744.5,668V698M752.5,668V693M760.5,668V687M768.5,668V683M776.5,668V676M784.5,669V666M792.5,669V656M800.5,669V648M808.5,669V645M816.5,669V646M824.5,669V643M832.5,669V651M840.5,669V658M848.5,669V662M856.5,669V659M864.5,669V657M872.5,669V664M880.5,669V668M888.5,668V676M896.5,668V685M904.5,668V690M912.5,668V694M920.5,668V700M928.5,668V709M936.5,668V715M944.5,668V717M952.5,668V715M960.5,668V714M968.5,668V715M976.5,668V718M984.5,668V720M992.5,668V718M1000.5,668V715M1008.5,668V706M1016.5,668V698M1024.5,668V696M1032.5,668V697M1040.5,668V698M1048.5,668V698M1056.5,668V699M1064.5,668V700M1072.5,668V704M1080.5,668V708M1088.5,668V710M1096.5,668V711M1104.5,668V711M1112.5,668V712M1120.5,668V721M1128.5,668V730M1136.5,668V733M1144.5,668V737M1152.5,668V740M1160.5,668V742M1168.5,668V743M1176.5,668V738M1184.5,668V736M1192.5,668V730M1200.5,668V728M1208.5,668V727M1216.5,668V728M1224.5,668V727M1232.5,668V722M1240.5,668V721M1248.5,668V720M1256.5,668V721M1264.5,668V718M1272.5,668V718M1280.5,668V718M1288.5,668V718M1296.5,668V721M1304.5,668V726M1312.5,668V732M1320.5,668V734M1328.5,668V735M1336.5,668V737M1344.5,668V740M1352.5,668V740M1360.5,668V734M1368.5,668V730M1376.5,668V727M1384.5,668V722M1392.5,668V716M1400.5,668V712M1408.5,668V712M1416.5,668V710M1424.5,668V708M1432.5,668V710M1440.5,668V712M1448.5,668V712M1456.5,668V712M1464.5,668V708M1472.5,668V705" stroke="#c0c0c0" stroke-width="1" fill="none" shape-rendering="crispEdges"/>
<polyline points="0.0,707.0 9.6,704.2 22.9,695.6 34.4,687.0 45.9,675.5 57.3,665.0 68.8,652.6 80.3,641.2 91.7,631.6 105.1,621.1 114.7,617.3 122.3,616.3 143.3,617.3 152.9,623.0 166.3,630.6 181.5,637.3 194.9,642.1 210.2,645.9 229.3,646.9 248.4,647.8 261.8,651.7 300.0,651.7 315.1,650.7 324.7,652.2 343.8,658.3 362.9,663.1 376.3,665.4 391.5,665.4 403.0,663.1 410.7,660.3 424.0,652.6 439.3,638.3 454.6,624.0 468.0,612.5 481.4,603.9 496.6,601.0 506.2,600.1 515.8,601.4 525.3,605.8 540.6,610.6 554.0,617.3 567.4,622.4 578.8,629.7 592.2,642.1 601.6,652.6 611.1,662.2 620.7,671.7 630.2,681.3 643.6,690.8 658.9,699.4 672.3,704.6 687.5,707.1 697.1,708.4 706.7,712.2 725.8,715.3 744.9,711.9 760.2,708.0 775.5,700.0 792.7,685.1 806.0,674.6 821.3,663.1 834.7,656.1 848.1,651.7 867.2,651.7 878.6,656.4 892.0,660.6 897.6,664.1 907.1,669.4 920.5,677.5 935.8,689.9 951.1,700.4 968.3,708.0 979.7,712.2 991.2,715.7 998.8,717.2 1010.3,715.3 1021.8,712.8 1040.9,708.4 1056.2,703.8 1067.6,700.8 1081.0,700.4 1092.5,702.3 1105.9,704.2 1117.3,707.1 1128.8,711.9 1144.1,719.9 1159.4,726.2 1170.8,731.0 1184.2,734.8 1190.2,736.3 1208.7,736.3 1225.2,732.5 1241.7,728.0 1256.2,724.7 1274.7,722.7 1295.3,720.6 1307.7,721.2 1328.3,724.3 1348.9,729.5 1365.4,733.6 1379.8,733.0 1394.3,730.5 1410.8,725.3 1425.2,718.5 1441.7,713.6 1456.1,710.9 1472.6,709.9" fill="none" stroke="#ff0000" stroke-width="1" stroke-dasharray="3,3" shape-rendering="crispEdges"/>
<line x1="1425.6" y1="715.0" x2="1495.6" y2="719.6" stroke="#ff0000" stroke-width="3.3" stroke-linecap="round"/>
<polygon points="1505.6,720.2 1495.3,724.5 1495.9,714.6" fill="#ff0000"/>
<g stroke="#c0c0c0" stroke-width="1" stroke-dasharray="3,3" shape-rendering="crispEdges">
<line x1="0" y1="789.5" x2="1651" y2="789.5"/>
<line x1="0" y1="840.5" x2="1651" y2="840.5"/>
<line x1="0" y1="901.5" x2="1651" y2="901.5"/>
</g>
<polyline points="0.5,846.5 8.5,831.2 16.5,815.9 24.5,807.0 32.5,810.8 40.5,814.4 48.5,803.5 56.5,813.1 64.5,809.2 72.5,807.3 80.5,806.4 88.5,804.5 96.5,802.0 104.5,822.6 112.5,832.6 120.5,831.2 128.5,827.4 136.5,837.5 144.5,848.4 152.5,851.3 160.5,839.4 168.5,832.2 176.5,824.1 184.5,827.4 192.5,826.4 200.5,826.4 208.5,841.3 216.5,836.4 224.5,839.4 232.5,839.4 240.5,841.3 248.5,834.1 256.5,832.2 264.5,822.6 272.5,821.7 280.5,824.5 288.5,824.5 296.5,824.5 304.5,845.5 312.5,855.1 320.5,858.9 328.5,848.4 336.5,848.4 344.5,851.3 352.5,829.3 360.5,829.3 368.5,828.3 376.5,833.1 384.5,844.0 392.5,839.8 400.5,812.7 408.5,811.2 416.5,806.4 424.5,800.6 432.5,800.3 440.5,790.1 448.5,807.3 456.5,810.2 464.5,815.0 472.5,826.4 480.5,831.2 488.5,833.1 496.5,823.6 504.5,818.4 512.5,817.3 520.5,825.5 528.5,822.2 536.5,832.2 544.5,848.4 552.5,837.9 560.5,832.6 568.5,840.8 576.5,859.3 584.5,861.2 592.5,862.7 600.5,863.7 608.5,861.8 616.5,858.5 624.5,851.3 632.5,845.5 640.5,854.1 648.5,857.4 656.5,860.8 664.5,865.6 672.5,862.4 680.5,853.6 688.5,858.0 696.5,862.4 704.5,862.4 712.5,866.2 720.5,857.0 728.5,852.8 736.5,834.5 744.5,839.4 752.5,840.2 760.5,838.3 768.5,837.0 776.5,832.2 784.5,815.9 792.5,814.6 800.5,816.5 808.5,824.9 816.5,833.1 824.5,825.5 832.5,848.4 840.5,850.3 848.5,845.5 856.5,834.5 864.5,831.8 872.5,849.8 880.5,852.8 888.5,857.4 896.5,859.3 904.5,857.4 912.5,858.5 920.5,862.7 928.5,870.8 936.5,868.9 944.5,864.3 952.5,854.1 960.5,856.1 968.5,860.5 976.5,868.1 984.5,860.8 992.5,858.0 1000.5,852.2 1008.5,837.5 1016.5,837.5 1024.5,845.9 1032.5,854.1 1040.5,854.1 1048.5,855.1 1056.5,857.4 1064.5,856.1 1072.5,867.0 1080.5,868.1 1088.5,865.0 1096.5,864.3 1104.5,865.0 1112.5,867.0 1120.5,884.1 1128.5,888.0 1136.5,873.8 1144.5,878.4 1152.5,881.5 1160.5,872.3 1168.5,875.2 1176.5,859.3 1184.5,859.9 1192.5,857.2 1200.5,860.3 1208.5,864.4 1216.5,871.2 1224.5,861.7 1232.5,853.1 1240.5,860.3 1248.5,862.3 1256.5,864.4 1264.5,860.3 1272.5,863.4 1280.5,863.4 1288.5,866.5 1296.5,874.7 1304.5,878.8 1312.5,884.4 1320.5,874.1 1328.5,875.3 1336.5,879.5 1344.5,883.6 1352.5,873.7 1360.5,857.2 1368.5,858.2 1376.5,861.7 1384.5,852.0 1392.5,853.1 1400.5,850.6 1408.5,862.3 1416.5,853.5 1424.5,855.5 1432.5,863.4 1440.5,868.5 1448.5,866.5 1456.5,857.2 1464.5,850.0 1472.5,853.5" fill="none" stroke="#1e90ff" stroke-width="1" shape-rendering="crispEdges"/>
<line x1="1383.5" y1="860.7" x2="1461.6" y2="854.0" stroke="#ff0000" stroke-width="3.3" stroke-linecap="round"/>
<polygon points="1471.6,853.1 1462.1,858.9 1461.2,849.0" fill="#ff0000"/>
<rect x="1652" y="48" width="3" height="1" fill="#000"/>
<text x="1657.5" y="51.5" font-family="Liberation Sans, sans-serif" font-size="10" fill="#000" textLength="32.5" lengthAdjust="spacingAndGlyphs">1.29010</text>
<rect x="1652" y="81" width="3" height="1" fill="#000"/>
<text x="1657.5" y="84.5" font-family="Liberation Sans, sans-serif" font-size="10" fill="#000" textLength="32.5" lengthAdjust="spacingAndGlyphs">1.28630</text>
<rect x="1652" y="114" width="3" height="1" fill="#000"/>
<text x="1657.5" y="117.5" font-family="Liberation Sans, sans-serif" font-size="10" fill="#000" textLength="32.5" lengthAdjust="spacingAndGlyphs">1.28250</text>
<rect x="1652" y="147" width="3" height="1" fill="#000"/>
<text x="1657.5" y="150.5" font-family="Liberation Sans, sans-serif" font-size="10" fill="#000" textLength="32.5" lengthAdjust="spacingAndGlyphs">1.27880</text>
<rect x="1652" y="180" width="3" height="1" fill="#000"/>
<text x="1657.5" y="183.5" font-family="Liberation Sans, sans-serif" font-size="10" fill="#000" textLength="32.5" lengthAdjust="spacingAndGlyphs">1.27500</text>
<rect x="1652" y="213" width="3" height="1" fill="#000"/>
<text x="1657.5" y="216.5" font-family="Liberation Sans, sans-serif" font-size="10" fill="#000" textLength="32.5" lengthAdjust="spacingAndGlyphs">1.27120</text>
<rect x="1652" y="246" width="3" height="1" fill="#000"/>
<text x="1657.5" y="249.5" font-family="Liberation Sans, sans-serif" font-size="10" fill="#000" textLength="32.5" lengthAdjust="spacingAndGlyphs">1.26740</text>
<rect x="1652" y="279" width="3" height="1" fill="#000"/>
<text x="1657.5" y="282.5" font-family="Liberation Sans, sans-serif" font-size="10" fill="#000" textLength="32.5" lengthAdjust="spacingAndGlyphs">1.26370</text>
<rect x="1652" y="312" width="3" height="1" fill="#000"/>
<text x="1657.5" y="315.5" font-family="Liberation Sans, sans-serif" font-size="10" fill="#000" textLength="32.5" lengthAdjust="spacingAndGlyphs">1.25990</text>
<rect x="1652" y="345" width="3" height="1" fill="#000"/>
<text x="1657.5" y="348.5" font-family="Liberation Sans, sans-serif" font-size="10" fill="#000" textLength="32.5" lengthAdjust="spacingAndGlyphs">1.25610</text>
<rect x="1652" y="378" width="3" height="1" fill="#000"/>
<text x="1657.5" y="381.5" font-family="Liberation Sans, sans-serif" font-size="10" fill="#000" textLength="32.5" lengthAdjust="spacingAndGlyphs">1.25240</text>
<rect x="1652" y="411" width="3" height="1" fill="#000"/>
<text x="1657.5" y="414.5" font-family="Liberation Sans, sans-serif" font-size="10" fill="#000" textLength="32.5" lengthAdjust="spacingAndGlyphs">1.24860</text>
<rect x="1652" y="444" width="3" height="1" fill="#000"/>
<text x="1657.5" y="447.5" font-family="Liberation Sans, sans-serif" font-size="10" fill="#000" textLength="32.5" lengthAdjust="spacingAndGlyphs">1.24480</text>
<rect x="1652" y="477" width="3" height="1" fill="#000"/>
<text x="1657.5" y="480.5" font-family="Liberation Sans, sans-serif" font-size="10" fill="#000" textLength="32.5" lengthAdjust="spacingAndGlyphs">1.24110</text>
<rect x="1652" y="510" width="3" height="1" fill="#000"/>
<text x="1657.5" y="513.5" font-family="Liberation Sans, sans-serif" font-size="10" fill="#000" textLength="32.5" lengthAdjust="spacingAndGlyphs">1.23730</text>
<rect x="1652" y="543" width="3" height="1" fill="#000"/>
<text x="1657.5" y="546.5" font-family="Liberation Sans, sans-serif" font-size="10" fill="#000" textLength="32.5" lengthAdjust="spacingAndGlyphs">1.23350</text>
<rect x="1652" y="576" width="3" height="1" fill="#000"/>
<text x="1657.5" y="579.5" font-family="Liberation Sans, sans-serif" font-size="10" fill="#000" textLength="32.5" lengthAdjust="spacingAndGlyphs">1.22980</text>
<rect x="1653" y="457" width="41" height="11" fill="#ff0000"/>
<text x="1657.5" y="466.5" font-family="Liberation Sans, sans-serif" font-size="10" fill="#fff" textLength="32.5" lengthAdjust="spacingAndGlyphs">1.24266</text>
<rect x="1653" y="476" width="41" height="11" fill="#ff0000"/>
<text x="1657.5" y="485.5" font-family="Liberation Sans, sans-serif" font-size="10" fill="#fff" textLength="32.5" lengthAdjust="spacingAndGlyphs">1.24052</text>
<rect x="1653" y="495" width="41" height="11" fill="#ffa500"/>
<text x="1657.5" y="504.5" font-family="Liberation Sans, sans-serif" font-size="10" fill="#fff" textLength="32.5" lengthAdjust="spacingAndGlyphs">1.23839</text>
<rect x="1653" y="518" width="41" height="11" fill="#000000"/>
<text x="1657.5" y="527.5" font-family="Liberation Sans, sans-serif" font-size="10" fill="#fff" textLength="32.5" lengthAdjust="spacingAndGlyphs">1.23571</text>
<rect x="1653" y="538" width="41" height="11" fill="#0000ff"/>
<text x="1657.5" y="547.5" font-family="Liberation Sans, sans-serif" font-size="10" fill="#fff" textLength="32.5" lengthAdjust="spacingAndGlyphs">1.23349</text>
<rect x="1653" y="560" width="41" height="11" fill="#0000ff"/>
<text x="1657.5" y="569.5" font-family="Liberation Sans, sans-serif" font-size="10" fill="#fff" textLength="32.5" lengthAdjust="spacingAndGlyphs">1.23098</text>
<rect x="1652" y="583" width="3" height="1" fill="#000"/>
<text x="1655.4" y="592" font-family="Liberation Sans, sans-serif" font-size="10" fill="#000" textLength="37.4" lengthAdjust="spacingAndGlyphs">0.004774</text>
<rect x="1652" y="668" width="3" height="1" fill="#000"/>
<text x="1655.4" y="672" font-family="Liberation Sans, sans-serif" font-size="10" fill="#000" textLength="17.5" lengthAdjust="spacingAndGlyphs">0.00</text>
<rect x="1652" y="750" width="3" height="1" fill="#000"/>
<text x="1655" y="748" font-family="Liberation Sans, sans-serif" font-size="10" fill="#000" textLength="40.8" lengthAdjust="spacingAndGlyphs">-0.004637</text>
<rect x="1652" y="755" width="3" height="1" fill="#000"/>
<text x="1655" y="764" font-family="Liberation Sans, sans-serif" font-size="10" fill="#000" textLength="14.6" lengthAdjust="spacingAndGlyphs">100</text>
<text x="1654" y="793.5" font-family="Liberation Sans, sans-serif" font-size="10" fill="#000" textLength="10.2" lengthAdjust="spacingAndGlyphs">80</text>
<text x="1654" y="844.5" font-family="Liberation Sans, sans-serif" font-size="10" fill="#000" textLength="10.2" lengthAdjust="spacingAndGlyphs">50</text>
<text x="1654" y="905.5" font-family="Liberation Sans, sans-serif" font-size="10" fill="#000" textLength="10.2" lengthAdjust="spacingAndGlyphs">15</text>
<text x="1655" y="924" font-family="Liberation Sans, sans-serif" font-size="10" fill="#000" textLength="5" lengthAdjust="spacingAndGlyphs">0</text>
<text x="-7.8" y="939.6" font-family="Liberation Sans, sans-serif" font-size="10" fill="#000" textLength="45" lengthAdjust="spacingAndGlyphs">6 Sep 2021</text>
<rect x="56" y="928" width="1" height="4" fill="#000"/>
<text x="55.4" y="939.6" font-family="Liberation Sans, sans-serif" font-size="10" fill="#000" textLength="49.5" lengthAdjust="spacingAndGlyphs">8 Sep 08:00</text>
<rect x="120" y="928" width="1" height="4" fill="#000"/>
<text x="119.4" y="939.6" font-family="Liberation Sans, sans-serif" font-size="10" fill="#000" textLength="49.5" lengthAdjust="spacingAndGlyphs">9 Sep 16:00</text>
<rect x="184" y="928" width="1" height="4" fill="#000"/>
<text x="183.4" y="939.6" font-family="Liberation Sans, sans-serif" font-size="10" fill="#000" textLength="54.2" lengthAdjust="spacingAndGlyphs">13 Sep 00:00</text>
<rect x="248" y="928" width="1" height="4" fill="#000"/>
<text x="247.4" y="939.6" font-family="Liberation Sans, sans-serif" font-size="10" fill="#000" textLength="54.2" lengthAdjust="spacingAndGlyphs">14 Sep 08:00</text>
<rect x="312" y="928" width="1" height="4" fill="#000"/>
<text x="311.4" y="939.6" font-family="Liberation Sans, sans-serif" font-size="10" fill="#000" textLength="54.2" lengthAdjust="spacingAndGlyphs">15 Sep 16:00</text>
<rect x="376" y="928" width="1" height="4" fill="#000"/>
<text x="375.4" y="939.6" font-family="Liberation Sans, sans-serif" font-size="10" fill="#000" textLength="54.2" lengthAdjust="spacingAndGlyphs">17 Sep 00:00</text>
<rect x="440" y="928" width="1" height="4" fill="#000"/>
<text x="439.4" y="939.6" font-family="Liberation Sans, sans-serif" font-size="10" fill="#000" textLength="54.2" lengthAdjust="spacingAndGlyphs">20 Sep 08:00</text>
<rect x="504" y="928" width="1" height="4" fill="#000"/>
<text x="503.4" y="939.6" font-family="Liberation Sans, sans-serif" font-size="10" fill="#000" textLength="54.2" lengthAdjust="spacingAndGlyphs">21 Sep 16:00</text>
<rect x="568" y="928" width="1" height="4" fill="#000"/>
<text x="567.4" y="939.6" font-family="Liberation Sans, sans-serif" font-size="10" fill="#000" textLength="54.2" lengthAdjust="spacingAndGlyphs">23 Sep 00:00</text>
<rect x="632" y="928" width="1" height="4" fill="#000"/>
<text x="631.4" y="939.6" font-family="Liberation Sans, sans-serif" font-size="10" fill="#000" textLength="54.2" lengthAdjust="spacingAndGlyphs">24 Sep 08:00</text>
<rect x="696" y="928" width="1" height="4" fill="#000"/>
<text x="695.4" y="939.6" font-family="Liberation Sans, sans-serif" font-size="10" fill="#000" textLength="54.2" lengthAdjust="spacingAndGlyphs">27 Sep 16:00</text>
<rect x="760" y="928" width="1" height="4" fill="#000"/>
<text x="759.4" y="939.6" font-family="Liberation Sans, sans-serif" font-size="10" fill="#000" textLength="54.2" lengthAdjust="spacingAndGlyphs">29 Sep 00:00</text>
<rect x="824" y="928" width="1" height="4" fill="#000"/>
<text x="823.4" y="939.6" font-family="Liberation Sans, sans-serif" font-size="10" fill="#000" textLength="54.2" lengthAdjust="spacingAndGlyphs">30 Sep 08:00</text>
<rect x="888" y="928" width="1" height="4" fill="#000"/>
<text x="887.4" y="939.6" font-family="Liberation Sans, sans-serif" font-size="10" fill="#000" textLength="49.5" lengthAdjust="spacingAndGlyphs">1 Oct 16:00</text>
<rect x="952" y="928" width="1" height="4" fill="#000"/>
<text x="951.4" y="939.6" font-family="Liberation Sans, sans-serif" font-size="10" fill="#000" textLength="49.5" lengthAdjust="spacingAndGlyphs">5 Oct 00:00</text>
<rect x="1016" y="928" width="1" height="4" fill="#000"/>
<text x="1015.4" y="939.6" font-family="Liberation Sans, sans-serif" font-size="10" fill="#000" textLength="49.5" lengthAdjust="spacingAndGlyphs">6 Oct 08:00</text>
<rect x="1080" y="928" width="1" height="4" fill="#000"/>
<text x="1079.4" y="939.6" font-family="Liberation Sans, sans-serif" font-size="10" fill="#000" textLength="49.5" lengthAdjust="spacingAndGlyphs">7 Oct 16:00</text>
<rect x="1144" y="928" width="1" height="4" fill="#000"/>
<text x="1143.4" y="939.6" font-family="Liberation Sans, sans-serif" font-size="10" fill="#000" textLength="54.2" lengthAdjust="spacingAndGlyphs">11 Oct 00:00</text>
<rect x="1208" y="928" width="1" height="4" fill="#000"/>
<text x="1207.4" y="939.6" font-family="Liberation Sans, sans-serif" font-size="10" fill="#000" textLength="54.2" lengthAdjust="spacingAndGlyphs">12 Oct 08:00</text>
<rect x="1272" y="928" width="1" height="4" fill="#000"/>
<text x="1271.4" y="939.6" font-family="Liberation Sans, sans-serif" font-size="10" fill="#000" textLength="54.2" lengthAdjust="spacingAndGlyphs">13 Oct 16:00</text>
<rect x="1336" y="928" width="1" height="4" fill="#000"/>
<text x="1335.4" y="939.6" font-family="Liberation Sans, sans-serif" font-size="10" fill="#000" textLength="54.2" lengthAdjust="spacingAndGlyphs">15 Oct 00:00</text>
<rect x="1400" y="928" width="1" height="4" fill="#000"/>
<text x="1399.4" y="939.6" font-family="Liberation Sans, sans-serif" font-size="10" fill="#000" textLength="54.2" lengthAdjust="spacingAndGlyphs">18 Oct 08:00</text>
<rect x="1464" y="928" width="1" height="4" fill="#000"/>
<text x="1463.4" y="939.6" font-family="Liberation Sans, sans-serif" font-size="10" fill="#000" textLength="54.2" lengthAdjust="spacingAndGlyphs">19 Oct 16:00</text>
<text x="7.8" y="38" font-family="Liberation Sans, sans-serif" font-size="9.5" fill="#000" textLength="57.6" lengthAdjust="spacingAndGlyphs">USDCAD-,H4</text>
<text x="72.5" y="38" font-family="Liberation Sans, sans-serif" font-size="9.5" fill="#000" textLength="31.8" lengthAdjust="spacingAndGlyphs">1.23674</text>
<text x="108.5" y="38" font-family="Liberation Sans, sans-serif" font-size="9.5" fill="#000" textLength="31.8" lengthAdjust="spacingAndGlyphs">1.23682</text>
<text x="144.4" y="38" font-family="Liberation Sans, sans-serif" font-size="9.5" fill="#000" textLength="31.8" lengthAdjust="spacingAndGlyphs">1.23571</text>
<text x="180.7" y="38" font-family="Liberation Sans, sans-serif" font-size="9.5" fill="#000" textLength="31.8" lengthAdjust="spacingAndGlyphs">1.23571</text>
<path d="M1,32 L4,36 L1,36z" fill="#000"/>
<text x="-1.5" y="594" font-family="Liberation Sans, sans-serif" font-size="9.5" fill="#000" textLength="151.5" lengthAdjust="spacingAndGlyphs">MACD(12,26,9) -0.002161 -0.002396</text>
<text x="-1.8" y="766" font-family="Liberation Sans, sans-serif" font-size="9.5" fill="#000" textLength="65.4" lengthAdjust="spacingAndGlyphs">RSI(14) 42.2633</text>
<defs>
<linearGradient id="gSell" x1="0" y1="0" x2="0" y2="1"><stop offset="0" stop-color="#f65050"/><stop offset="1" stop-color="#d82424"/></linearGradient>
<linearGradient id="gPrice" x1="0" y1="0" x2="0" y2="1"><stop offset="0" stop-color="#d42a2a"/><stop offset="1" stop-color="#b00000"/></linearGradient>
<linearGradient id="gBtn" x1="0" y1="0" x2="0" y2="1"><stop offset="0" stop-color="#f4f4f4"/><stop offset="1" stop-color="#d0d0d0"/></linearGradient>
</defs>
<rect x="0" y="46" width="47" height="24" fill="url(#gSell)"/>
<rect x="163" y="46" width="51" height="24" fill="url(#gSell)"/>
<rect x="0" y="70" width="104" height="33" fill="url(#gPrice)"/>
<rect x="106" y="70" width="108" height="33" fill="url(#gPrice)"/>
<rect x="0" y="69" width="43" height="1" fill="#8a0000"/>
<rect x="166" y="69" width="43" height="1" fill="#8a0000"/>
<rect x="49.5" y="46.5" width="111" height="23" fill="#fff" stroke="#a8a8a8"/>
<rect x="51" y="48" width="19" height="19" fill="url(#gBtn)" stroke="#c8c8c8"/>
<rect x="140" y="48" width="19" height="19" fill="url(#gBtn)" stroke="#c8c8c8"/>
<path d="M57.5,56 h6 l-3,3z" fill="#4a5aa8"/>
<path d="M146.5,59 h6 l-3,-3z" fill="#4a5aa8"/>
<text x="135" y="62" font-family="Liberation Sans, sans-serif" font-size="12" fill="#000" text-anchor="end">1.00</text>
<text x="7.4" y="62" font-family="Liberation Sans, sans-serif" font-size="12" fill="#fff" textLength="25" lengthAdjust="spacingAndGlyphs">SELL</text>
<text x="187" y="62" font-family="Liberation Sans, sans-serif" font-size="12" fill="#fff" text-anchor="middle">BUY</text>
<text x="15" y="98" font-family="Liberation Sans, sans-serif" font-size="12" font-weight="bold" fill="#fff">1.23</text>
<text x="43.6" y="98" font-family="Liberation Sans, sans-serif" font-size="33" fill="#fff" textLength="32.4" lengthAdjust="spacingAndGlyphs">57</text>
<text x="82" y="82" font-family="Liberation Sans, sans-serif" font-size="12" font-weight="bold" fill="#fff">1</text>
<text x="125" y="98" font-family="Liberation Sans, sans-serif" font-size="12" font-weight="bold" fill="#fff">1.23</text>
<text x="153.1" y="98" font-family="Liberation Sans, sans-serif" font-size="33" fill="#fff" textLength="35.4" lengthAdjust="spacingAndGlyphs">69</text>
<text x="193" y="82" font-family="Liberation Sans, sans-serif" font-size="12" font-weight="bold" fill="#fff">4</text>

<path d="M1479,27 L1488,27 L1483.5,32z" fill="#c0c0c0"/>
</svg></body></html>
